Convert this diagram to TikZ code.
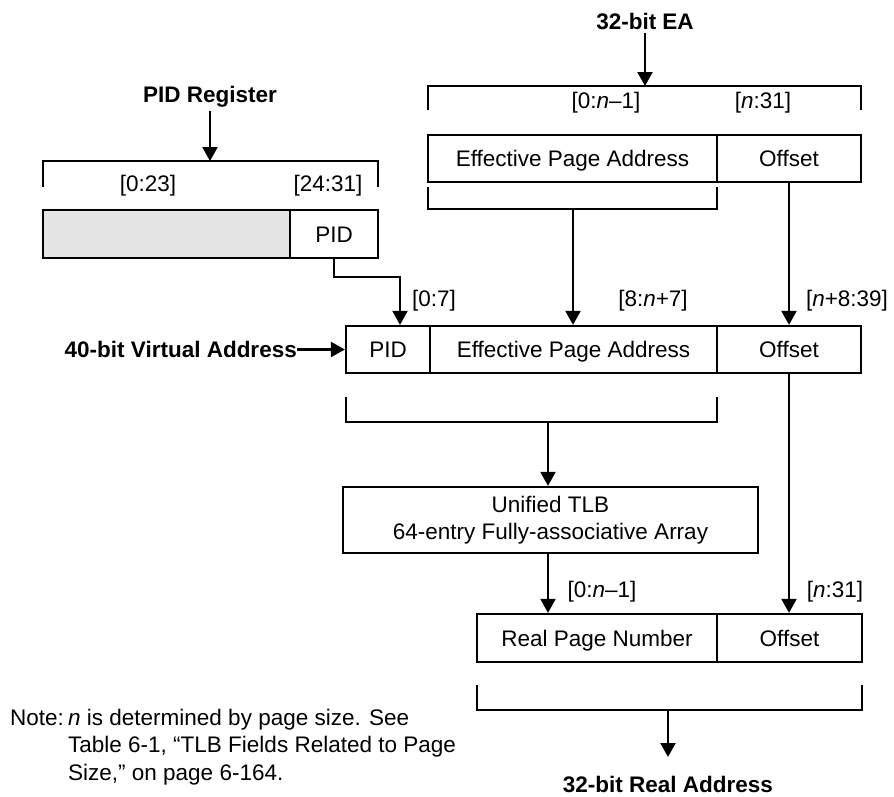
\documentclass[tikz,border=0pt]{standalone}
\usepackage{fontspec}
\setmainfont{Liberation Sans}
\usetikzlibrary{arrows.meta}
\begin{document}
\begin{tikzpicture}[x=1pt,y=-1pt,
  every node/.style={font=\fontsize{22.5}{27.5}\selectfont},
  ln/.style={line width=2.3pt},
  arr/.style={line width=2.3pt,-{Triangle[length=14pt,width=15pt]}},
  cell/.style={draw,line width=2.3pt,inner sep=0pt,minimum height=47pt,text height=16pt,text depth=0pt},
  lab/.style={text height=16pt,text depth=0pt},
  bold/.style={font=\fontsize{22.5}{27.5}\selectfont\bfseries}
]
\useasboundingbox[fill=white] (0,0) rectangle (894,796);

% ---- 32-bit EA ----
\node[bold] (ea) at (645,21) {32-bit EA};
\coordinate (eaB) at (645,86);
\draw[arr] (ea) -- (eaB);
\draw[ln] (428,110) -- (428,86) -- (861,86) -- (861,110);
\node[lab] (eaL1) at (606,100) {[0:\textit{n}--1]};
\node[lab] (eaL2) at (763,100) {[\textit{n}:31]};
\node[cell,minimum width=289pt] (eaEPA) at (572.5,158.5) {Effective Page Address};
\node[cell,minimum width=144pt] (eaOff) at (789,158.5) {Offset};
\draw[ln] (428,187) -- (428,209) -- (717,209) -- (717,187);
\coordinate (eaSub) at (573,209);

% ---- PID register ----
\node[bold] (pidr) at (210,97) {PID Register};
\coordinate (pidB) at (210,161);
\draw[arr] (pidr) -- (pidB);
\draw[ln] (43,187) -- (43,161) -- (378,161) -- (378,187);
\node[lab] (pidL1) at (148,183) {[0:23]};
\node[lab] (pidL2) at (328,183) {[24:31]};
\node[cell,fill=black!10,minimum width=247pt,minimum height=48pt] (pidG) at (166.5,234) {};
\node[cell,minimum width=88pt,minimum height=48pt] (pidC) at (334,234) {PID};
\coordinate (pidT) at (400,277);

% ---- 40-bit virtual address ----
\node[cell,minimum width=84pt] (vaPID) at (388,349.5) {PID};
\node[cell,minimum width=287pt] (vaEPA) at (573.5,349.5) {Effective Page Address};
\node[cell,minimum width=144pt] (vaOff) at (789,349.5) {Offset};
\node[bold,anchor=east,inner sep=0pt] (vaL) at (297,349.5) {40-bit Virtual Address};
\draw[arr] (vaL) -- (vaPID.west);

\draw[arr] (pidC.south) |- (pidT) -- (pidT |- vaPID.north);
\draw[arr] (eaSub) -- (eaSub |- vaEPA.north);
\draw[arr] (eaOff.south) -- (vaOff.north);
\node[lab] (vaL1) at (434,298) {[0:7]};
\node[lab] (vaL2) at (653,298) {[8:\textit{n}+7]};
\node[lab] (vaL3) at (847,298) {[\textit{n}+8:39]};

\draw[ln] (346,397) -- (346,422) -- (717,422) -- (717,397);
\coordinate (vaB) at (548,422);

% ---- TLB ----
\node[draw,line width=2.3pt,inner sep=0pt,minimum width=415pt,minimum height=66pt,align=center] (tlb) at (550.5,520)
  {Unified TLB\\64-entry Fully-associative Array};
\draw[arr] (vaB) -- (vaB |- tlb.north);

% ---- Real address ----
\node[cell,minimum width=240pt,minimum height=48pt] (rpn) at (597,638) {Real Page Number};
\node[cell,minimum width=145pt,minimum height=48pt] (rpnOff) at (789.5,638) {Offset};
\draw[arr] (vaB |- tlb.south) -- (vaB |- rpn.north);
\draw[arr] (vaOff.south) -- (vaOff.south |- rpnOff.north);
\node[lab] (rpL1) at (602,589) {[0:\textit{n}--1]};
\node[lab] (rpL2) at (835,589) {[\textit{n}:31]};

\draw[ln] (477,685) -- (477,710) -- (862,710) -- (862,685);
\coordinate (rpnB) at (668,710);
\coordinate (raT) at (668,757);
\draw[arr] (rpnB) -- (raT);
\node[bold] (ra) at (668,784) {32-bit Real Address};

% ---- Note ----
\node[anchor=base west,inner sep=0pt] (noteA) at (10,725) {Note:};
\node[anchor=base west,inner sep=0pt] (noteB) at (68,725) {\textit{n} is determined by page size. See};
\node[anchor=base west,inner sep=0pt] (noteC) at (68,752.5) {Table 6-1, “TLB Fields Related to Page};
\node[anchor=base west,inner sep=0pt] (noteD) at (68,780) {Size,” on page 6-164.};
\end{tikzpicture}
\end{document}
